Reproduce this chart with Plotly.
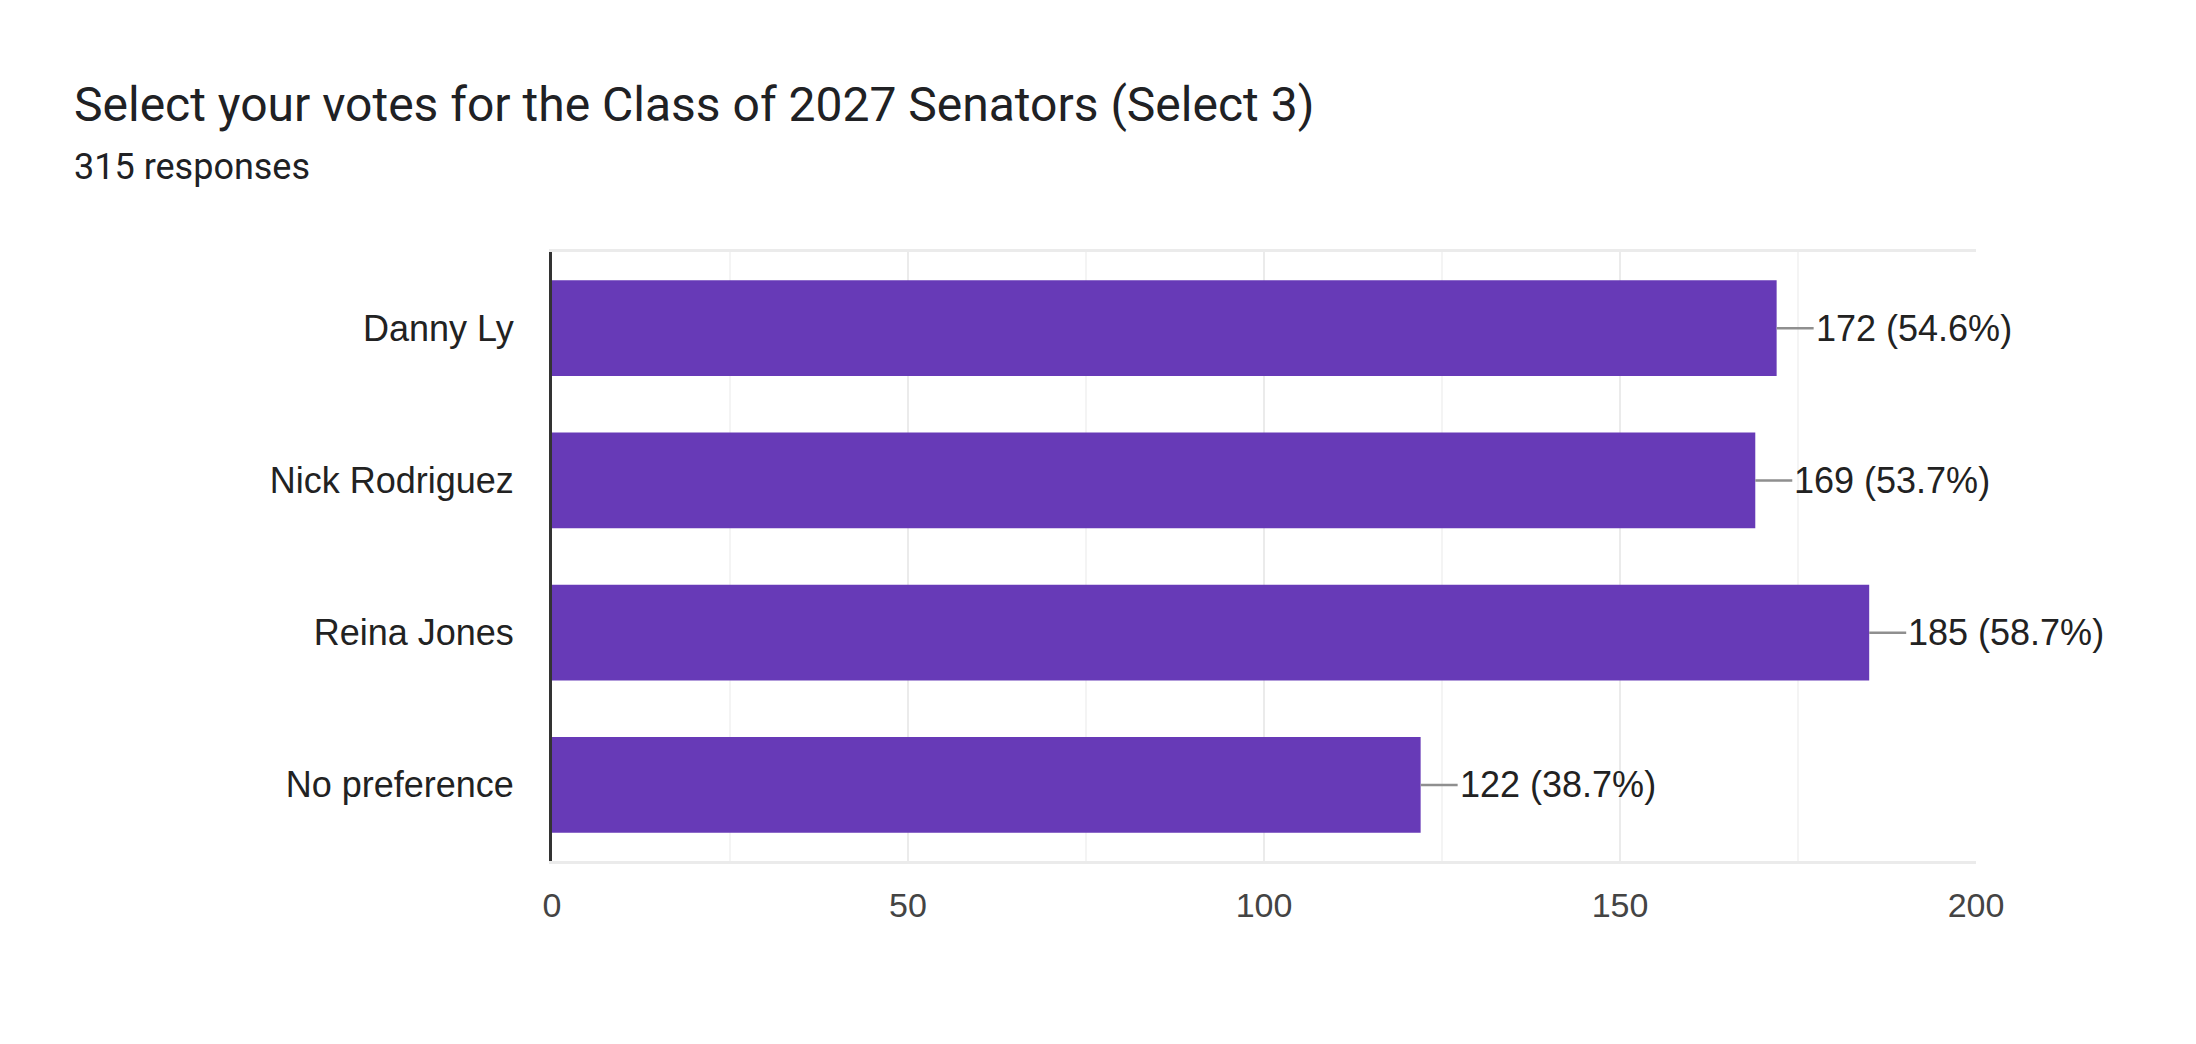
import plotly.graph_objects as go

categories = ["Danny Ly", "Nick Rodriguez", "Reina Jones", "No preference"]
votes = [172, 169, 185, 122]
percents = ["54.6%", "53.7%", "58.7%", "38.7%"]
x_ticks = [0, 50, 100, 150, 200]
title_text = "Select your votes for the Class of 2027 Senators (Select 3)"
subtitle_text = "315 responses"

W, H = 2196, 1044
OFF = 8  # page body margin
L, R, T, B = 544, 228, 244, 191
pw, ph = W - L - R, H - T - B

def px_x(p):
    return (p - OFF - L) / pw

def px_y(p):
    return (H - B - (p - OFF)) / ph

label_font = "Arial, Liberation Sans, sans-serif"

fig = go.Figure()
fig.add_trace(go.Bar(
    x=votes, y=categories, orientation="h",
    marker=dict(color="#673ab7", line=dict(width=0)),
    hoverinfo="skip",
))

for c, v, p in zip(categories, votes, percents):
    fig.add_annotation(
        x=v, y=c, xref="x", yref="y",
        text=f"{v} ({p})", showarrow=True, arrowhead=0, arrowwidth=2.5,
        arrowcolor="#8f8f8f", ax=37, ay=0, xanchor="left", yanchor="middle",
        standoff=0, borderpad=1,
        font=dict(family=label_font, size=36, color="#222222"),
    )

fig.add_annotation(
    x=px_x(72), y=px_y(104), xref="paper", yref="paper",
    text=title_text, showarrow=False, xanchor="left", yanchor="middle",
    font=dict(family="Roboto", size=48, color="#202124"),
)
fig.add_annotation(
    x=px_x(72), y=px_y(167), xref="paper", yref="paper",
    text=subtitle_text, showarrow=False, xanchor="left", yanchor="middle",
    font=dict(family="Roboto", size=36, color="#202124"),
)

fig.update_layout(
    width=W, height=H,
    margin=dict(l=L, r=R, t=T, b=B, pad=0),
    paper_bgcolor="white", plot_bgcolor="white",
    bargap=0.37, showlegend=False,
    xaxis=dict(
        range=[0, 200], tickvals=x_ticks, ticktext=[str(t) for t in x_ticks],
        showgrid=True, gridcolor="#ebebeb", gridwidth=2,
        minor=dict(dtick=25, showgrid=True, gridcolor="#f4f4f4", gridwidth=2),
        zeroline=False, showline=True, linecolor="#ebebeb", linewidth=3,
        mirror=True, ticks="", ticklabelstandoff=12,
        tickfont=dict(family=label_font, size=34, color="#444444"),
        fixedrange=True,
    ),
    yaxis=dict(
        categoryorder="array", categoryarray=categories, autorange="reversed",
        showgrid=False, zeroline=False, showline=True, linecolor="#333333",
        linewidth=3, ticks="", ticklabelstandoff=28,
        tickfont=dict(family=label_font, size=36, color="#222222"),
        fixedrange=True,
    ),
)

fig.write_html("out.html")
